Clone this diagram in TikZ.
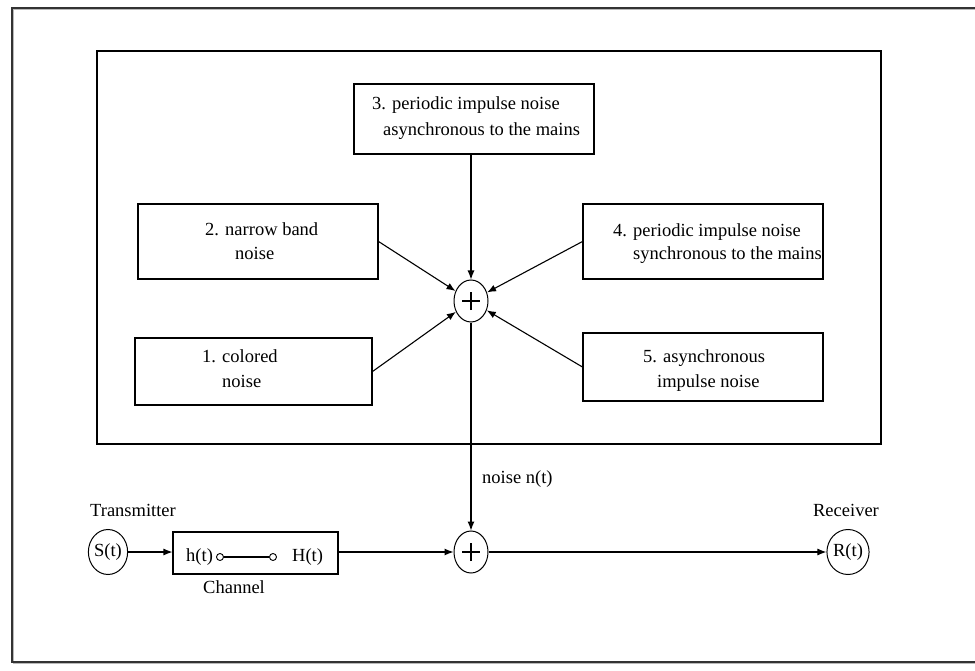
\documentclass[tikz,border=0pt]{standalone}
\usepackage{fontspec}
\setmainfont{Liberation Serif}
\usetikzlibrary{arrows.meta,shapes.geometric}
\begin{document}
\begin{tikzpicture}[x=1pt,y=-1pt,
  every node/.style={font=\fontsize{18.5}{24}\selectfont},
  box/.style={draw, rectangle, line width=1.1pt, inner sep=0pt},
  txt/.style={anchor=base west, inner sep=0pt},
  plusmark/.style={path picture={
      \draw[line width=2.4pt] ([xshift=-9pt]path picture bounding box.center) -- ([xshift=9pt]path picture bounding box.center);
      \draw[line width=2.4pt] ([yshift=-9pt]path picture bounding box.center) -- ([yshift=9pt]path picture bounding box.center);}},
  sum/.style={draw, ellipse, line width=1pt, minimum width=34pt, minimum height=42pt, inner sep=0pt, plusmark},
  sig/.style={draw, ellipse, line width=1pt, minimum width=38pt, minimum height=45pt, inner sep=0pt},
  pin/.style={draw, circle, line width=0.9pt, minimum size=7pt, inner sep=0pt},
  wire/.style={line width=1.1pt},
  arr/.style={wire, -{Latex[length=9pt,width=7pt]}},
]
\useasboundingbox (0,0) rectangle (975,671);

% outer frame with its soft shadow line
\draw[gray!55, line width=1pt] (975,9.6) -- (13.6,9.6) -- (13.6,663.6) -- (975,663.6);
\draw[black!80, line width=1.3pt] (975,8) -- (12,8) -- (12,662) -- (975,662);

% frame around the noise sources
\node[box, minimum width=784pt, minimum height=393pt] (frame) at (489,247.5) {};

% noise sources
\node[box, minimum width=240pt, minimum height=70pt] (b3) at (474,119) {};
\node[txt] (t3a) at (372,110) {3. periodic impulse noise};
\node[txt] (t3b) at (383,136) {asynchronous to the mains};

\node[box, minimum width=240pt, minimum height=75pt] (b2) at (258,241.5) {};
\node[txt] (t2a) at (205,236) {2. narrow band};
\node[txt] (t2b) at (235,260) {noise};

\node[box, minimum width=237pt, minimum height=67pt] (b1) at (253.5,371.5) {};
\node[txt] (t1a) at (202,362) {1. colored};
\node[txt] (t1b) at (222,387) {noise};

\node[box, minimum width=240pt, minimum height=75pt] (b4) at (703,241.5) {};
\node[txt] (t4a) at (613,237) {4. periodic impulse noise};
\node[txt] (t4b) at (633,260) {synchronous to the mains};

\node[box, minimum width=240pt, minimum height=68pt] (b5) at (703,367) {};
\node[txt] (t5a) at (643,362) {5. asynchronous};
\node[txt] (t5b) at (657,387) {impulse noise};

% adders
\node[sum] (sum1) at (471,301) {};
\node[sum] (sum2) at (471,552) {};

% transmission chain
\node[sig] (S) at (108,552) {S(t)};
\node[txt] (ttx) at (90,516) {Transmitter};
\node[box, minimum width=165pt, minimum height=42pt] (ch) at (255.5,553) {};
\node[txt] (th) at (186,561) {h(t)};
\node[txt] (tH) at (292,561) {H(t)};
\node[pin] (p1) at (220,557) {};
\node[pin] (p2) at (273,557) {};
\node[txt] (tch) at (203,593) {Channel};
\node[sig] (R) at (848,552) {R(t)};
\node[anchor=base, inner sep=0pt] (trx) at (846,516) {Receiver};
\node[txt] (tnoise) at (482,483) {noise n(t)};

% connectors
\draw[wire] (p1) -- (p2);
\draw[arr] (b3.south -| sum1) -- (sum1);
\draw[arr] (b2.east) -- (sum1);
\draw[arr] (b1.east) -- (sum1);
\draw[arr] (b4.west) -- (sum1);
\draw[arr] (b5.west) -- (sum1);
\draw[arr] (sum1) -- (sum2);
\draw[arr] (S) -- (S -| ch.west);
\draw[arr] (ch.east |- sum2) -- (sum2);
\draw[arr] (sum2) -- (R);
\end{tikzpicture}
\end{document}
